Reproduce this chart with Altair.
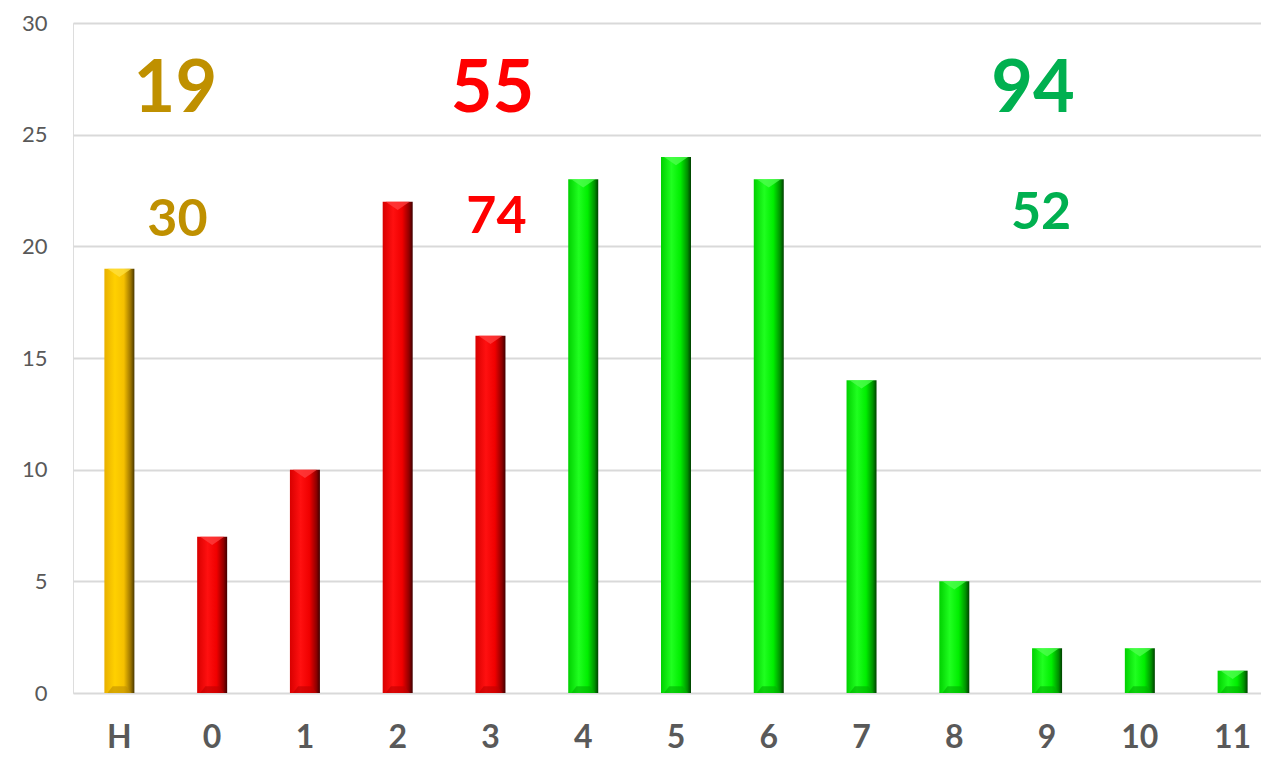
import altair as alt
import pandas as pd

categories = ["H", "0", "1", "2", "3", "4", "5", "6", "7", "8", "9", "10", "11"]
values = [19, 7, 10, 22, 16, 23, 24, 23, 14, 5, 2, 2, 1]
groups = ["gold", "red", "red", "red", "red", "green", "green", "green",
          "green", "green", "green", "green", "green"]

ann_text = ["19", "30", "55", "74", "94", "52"]
ann_cat = ["H", "H", "3", "3", "9", "9"]
ann_y = [27.0, 21.2, 27.0, 21.3, 27.0, 21.5]
ann_group = ["gold", "gold", "red", "red", "green", "green"]

df = pd.DataFrame({"cat": categories, "val": values, "grp": groups})

FONT = "Lato"
text_colors = {"gold": "#BF9000", "red": "#FF0000", "green": "#00B050"}
ann_dx = [56, 58, 2, 6, -14, -6]
ann_size = [72, 52, 72, 52, 72, 52]

gradients = {
    "gold": [("#E8B000", 0.0), ("#FFD000", 0.35), ("#F5C000", 0.65), ("#9A7300", 0.88), ("#4A3800", 1.0)],
    "red": [("#D80000", 0.0), ("#FF1010", 0.35), ("#F00000", 0.65), ("#900000", 0.88), ("#400000", 1.0)],
    "green": [("#00D000", 0.0), ("#20FF20", 0.35), ("#00EE00", 0.65), ("#009000", 0.88), ("#004000", 1.0)],
}
tops = {"gold": "#FFE040", "red": "#FF4040", "green": "#50FF50"}
bottoms = {"gold": "#C09000", "red": "#C00000", "green": "#00B000"}

x_enc = alt.X("cat:N", sort=categories,
              scale=alt.Scale(range=[0, 1206], paddingInner=0, paddingOuter=0),
              axis=alt.Axis(title=None, labelAngle=0, labelFont=FONT, labelFontSize=32,
                            labelFontWeight="bold", labelColor="#595959", labelPadding=29,
                            ticks=False, domain=False, grid=False))
y_enc = alt.Y("val:Q", scale=alt.Scale(domain=[0, 30], nice=False),
              axis=alt.Axis(title=None, values=[0, 5, 10, 15, 20, 25, 30],
                            labelFont=FONT, labelFontSize=22, labelColor="#595959",
                            labelPadding=26, ticks=False, domain=False,
                            gridColor="#D9D9D9", gridWidth=2))

base = alt.Chart(df)
layers = []
for g in ["gold", "red", "green"]:
    stops = [alt.GradientStop(color=c, offset=o) for c, o in gradients[g]]
    bar = base.transform_filter(alt.datum.grp == g).mark_bar(
        size=30,
        color=alt.Gradient(gradient="linear", stops=stops, x1=0, x2=1, y1=0, y2=0),
    ).encode(x=x_enc, y=y_enc)
    top = base.transform_filter(alt.datum.grp == g).mark_point(
        shape="M -0.8 0 L 0.8 0 L 0 0.55 Z", size=900, filled=True, opacity=0.75,
        color=tops[g], strokeWidth=0,
    ).encode(x=alt.X("cat:N", sort=categories), y="val:Q")
    bot = base.transform_filter(alt.datum.grp == g).mark_point(
        shape="M -0.8 0 L 0.8 0 L 0.45 -0.45 L -0.45 -0.45 Z", size=900, filled=True,
        opacity=0.6, color=bottoms[g], strokeWidth=0,
    ).encode(x=alt.X("cat:N", sort=categories), y=alt.Y("zero:Q")).transform_calculate(zero="0")
    layers += [bar, top, bot]

for t, c, yv, g, dx, sz in zip(ann_text, ann_cat, ann_y, ann_group, ann_dx, ann_size):
    adf = pd.DataFrame({"cat": [c], "y": [yv], "t": [t]})
    layers.append(
        alt.Chart(adf).mark_text(font=FONT, fontWeight="bold", fontSize=sz,
                                 color=text_colors[g], dx=dx, baseline="middle",
                                 align="center")
        .encode(x=alt.X("cat:N", sort=categories), y="y:Q", text="t:N")
    )

chart = alt.layer(*layers).properties(
    width=1188, height=670,
    autosize=alt.AutoSizeParams(type="none"),
    padding={"left": 65, "top": 15, "right": 0, "bottom": 64},
).configure_view(stroke=None).configure(background="white")

chart.save("out.html", embed_options={"renderer": "svg", "actions": False})
